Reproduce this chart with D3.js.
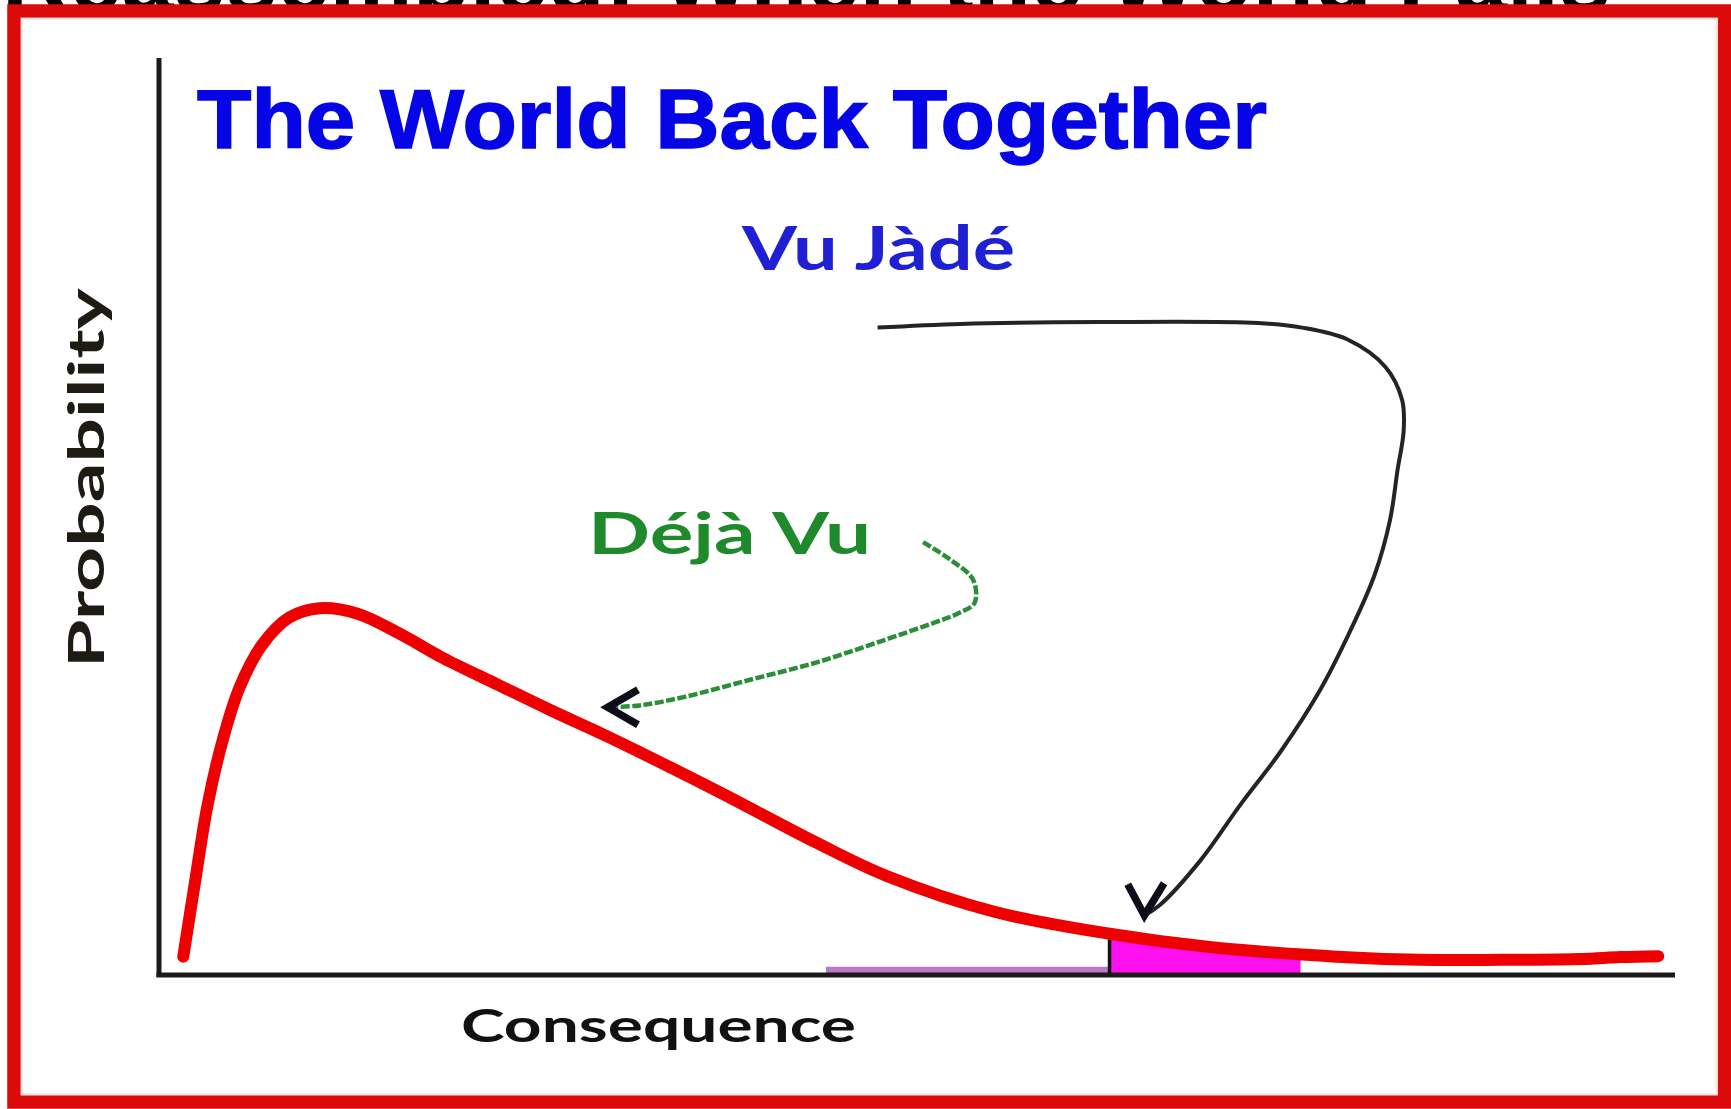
<!DOCTYPE html>
<html>
<head>
<meta charset="utf-8">
<script src="https://cdn.jsdelivr.net/npm/d3@7"></script>
<style>
  html, body { margin: 0; padding: 0; background: #ffffff; }
  svg { display: block; }
</style>
</head>
<body>
<svg id="chart" width="1731" height="1109"></svg>
<script>
// Skewed risk distribution: probability against consequence (arbitrary 0-100 units)
const consequence = [1.6, 2.4, 3.2, 4.2, 5.3, 6.8, 8.6, 10.6, 13.1, 15.9, 18.7, 22.3, 25.8, 29.6, 36.9, 43.4, 48.0, 55.1, 62.7, 69.3, 77.7, 83.2, 88.5, 93.8, 96.4, 98.9];
const probability = [2.0, 10.4, 18.5, 25.6, 31.3, 36.0, 39.0, 40.0, 39.4, 37.2, 34.6, 31.7, 28.9, 26.0, 20.0, 14.4, 10.8, 6.9, 4.5, 3.05, 2.0, 1.65, 1.65, 1.75, 1.95, 2.05];

// Tail region beyond the cutoff, and the faint band before it
const tailStart = 62.7;
const tailEnd = 75.3;
const bandStart = 44.0;
const bandHeight = 0.9;

// Annotation arrow routes, in the same consequence / probability units
const dejaVuX = [50.4, 52.2, 53.7, 53.8, 52.8, 51.1, 47.8, 43.4, 39.0, 34.6, 31.7, 29.9];
const dejaVuY = [47.2, 45.3, 43.1, 40.6, 39.5, 38.4, 36.5, 34.1, 32.2, 30.3, 29.4, 29.2];
const dejaVuHeadX = [31.6, 29.6, 31.6];
const dejaVuHeadY = [31.1, 29.2, 27.3];

const vuJadeX = [47.4, 52.9, 62.1, 72.5, 75.4, 78.4, 80.9, 82.0, 82.1, 81.7, 81.2, 80.2, 78.6, 76.6, 74.0, 71.3, 68.7, 66.0, 65.0];
const vuJadeY = [70.6, 71.0, 71.2, 71.1, 70.6, 69.3, 66.3, 62.7, 59.3, 55.1, 49.6, 43.7, 37.6, 31.1, 24.4, 18.5, 12.5, 7.6, 6.5];
const vuJadeHeadX = [63.9, 65.0, 66.3];
const vuJadeHeadY = [9.9, 6.5, 10.0];

// Text
const headline = "Reassembled: When the World Falls";
const title = "The World Back Together";
const unknownLabel = "Vu Jàdé";
const knownLabel = "Déjà Vu";
const yLabel = "Probability";
const xLabel = "Consequence";

const svg = d3.select("#chart");
const W = 1731, H = 1109;

const x = d3.scaleLinear().domain([0, 100]).range([159, 1675]);
const y = d3.scaleLinear().domain([0, 100]).range([975, 58]);

const pts = consequence.map((c, i) => [c, probability[i]]);
const zip = (xs, ys) => xs.map((v, i) => [v, ys[i]]);

svg.append("rect").attr("width", W).attr("height", H).attr("fill", "#ffffff");

// Cut-off headline behind the frame
svg.append("text")
  .attr("x", 2).attr("y", 11)
  .attr("font-family", "Liberation Sans, Arial, sans-serif")
  .attr("font-weight", 700)
  .attr("font-size", 96)
  .attr("textLength", 1609)
  .attr("lengthAdjust", "spacingAndGlyphs")
  .attr("fill", "#000000")
  .text(headline);

// Red frame
svg.append("rect")
  .attr("x", 14).attr("y", 11)
  .attr("width", 1710.5).attr("height", 1091)
  .attr("fill", "none")
  .attr("stroke", "#dc0a0a")
  .attr("stroke-width", 13.5);
svg.append("rect")
  .attr("x", 21.8).attr("y", 18.8)
  .attr("width", 1695).attr("height", 1075.5)
  .attr("fill", "none")
  .attr("stroke", "#fbe3e3")
  .attr("stroke-width", 2);

const defs = svg.append("defs");
defs.append("clipPath").attr("id", "tailClip")
  .append("rect")
  .attr("x", x(tailStart)).attr("y", y(100))
  .attr("width", x(tailEnd) - x(tailStart))
  .attr("height", y(0) - y(100));

const curve = d3.curveCatmullRom.alpha(0.5);

// Faint band along the axis
svg.append("rect")
  .attr("x", x(bandStart)).attr("y", y(bandHeight))
  .attr("width", x(tailStart) - x(bandStart))
  .attr("height", y(0) - y(bandHeight))
  .attr("fill", "#b87ac8");

// Tail area under the curve
svg.append("path")
  .attr("clip-path", "url(#tailClip)")
  .attr("d", d3.area().curve(curve)
    .x(d => x(d[0])).y0(y(0)).y1(d => y(d[1]))(pts))
  .attr("fill", "#ff10ee");

// Cutoff marker
const cutIdx = consequence.findIndex(c => c >= tailStart);
svg.append("line")
  .attr("x1", x(tailStart)).attr("x2", x(tailStart))
  .attr("y1", y(0)).attr("y2", y(probability[cutIdx]))
  .attr("stroke", "#111111").attr("stroke-width", 3.5);

// Distribution curve
svg.append("path")
  .attr("d", d3.line().curve(curve).x(d => x(d[0])).y(d => y(d[1]))(pts))
  .attr("fill", "none")
  .attr("stroke", "#ee0000")
  .attr("stroke-width", 12)
  .attr("stroke-linecap", "round")
  .attr("stroke-linejoin", "round");

// Axes
svg.append("line")
  .attr("x1", x(0)).attr("x2", x(0)).attr("y1", y(0) + 2).attr("y2", y(100))
  .attr("stroke", "#1a1a1a").attr("stroke-width", 5);
svg.append("line")
  .attr("x1", x(0) - 2.5).attr("x2", x(100)).attr("y1", y(0)).attr("y2", y(0))
  .attr("stroke", "#1a1a1a").attr("stroke-width", 5);

// Annotation arrows
const line = d3.line().curve(curve).x(d => x(d[0])).y(d => y(d[1]));
const straight = d3.line().x(d => x(d[0])).y(d => y(d[1]));

svg.append("path")
  .attr("d", line(zip(dejaVuX, dejaVuY)))
  .attr("fill", "none")
  .attr("stroke", "#2c8e38")
  .attr("stroke-width", 4.5)
  .attr("stroke-dasharray", "9 2.5");
svg.append("path")
  .attr("d", straight(zip(dejaVuHeadX, dejaVuHeadY)))
  .attr("fill", "none")
  .attr("stroke", "#0d0d1a")
  .attr("stroke-width", 7.5)
  .attr("stroke-linejoin", "miter");

svg.append("path")
  .attr("d", line(zip(vuJadeX, vuJadeY)))
  .attr("fill", "none")
  .attr("stroke", "#242424")
  .attr("stroke-width", 4);
svg.append("path")
  .attr("d", straight(zip(vuJadeHeadX, vuJadeHeadY)))
  .attr("fill", "none")
  .attr("stroke", "#0d0d1a")
  .attr("stroke-width", 7.5)
  .attr("stroke-linejoin", "miter");

// Titles and labels
svg.append("text")
  .attr("x", 197).attr("y", 148)
  .attr("font-family", "Liberation Sans, Arial, sans-serif")
  .attr("font-weight", 700)
  .attr("font-size", 84)
  .attr("textLength", 1070)
  .attr("lengthAdjust", "spacingAndGlyphs")
  .attr("fill", "#0505e6")
  .attr("stroke", "#0505e6")
  .attr("stroke-width", 1.5)
  .text(title);

svg.append("text")
  .attr("x", 742).attr("y", 270)
  .attr("font-family", "Lato, sans-serif")
  .attr("font-weight", 700)
  .attr("font-size", 61)
  .attr("textLength", 273)
  .attr("lengthAdjust", "spacingAndGlyphs")
  .attr("fill", "#1f1fd4")
  .text(unknownLabel);

svg.append("text")
  .attr("x", 588).attr("y", 554)
  .attr("font-family", "Lato, sans-serif")
  .attr("font-weight", 700)
  .attr("font-size", 58)
  .attr("textLength", 283)
  .attr("lengthAdjust", "spacingAndGlyphs")
  .attr("fill", "#1f8a2c")
  .text(knownLabel);

svg.append("text")
  .attr("transform", "translate(104,668) rotate(-90)")
  .attr("font-family", "Lato, sans-serif")
  .attr("font-weight", 700)
  .attr("font-size", 49)
  .attr("textLength", 380)
  .attr("lengthAdjust", "spacingAndGlyphs")
  .attr("fill", "#1e1a14")
  .text(yLabel);

svg.append("text")
  .attr("x", 461).attr("y", 1042)
  .attr("font-family", "Lato, sans-serif")
  .attr("font-weight", 700)
  .attr("font-size", 45)
  .attr("textLength", 395)
  .attr("lengthAdjust", "spacingAndGlyphs")
  .attr("fill", "#111111")
  .text(xLabel);
</script>
</body>
</html>
